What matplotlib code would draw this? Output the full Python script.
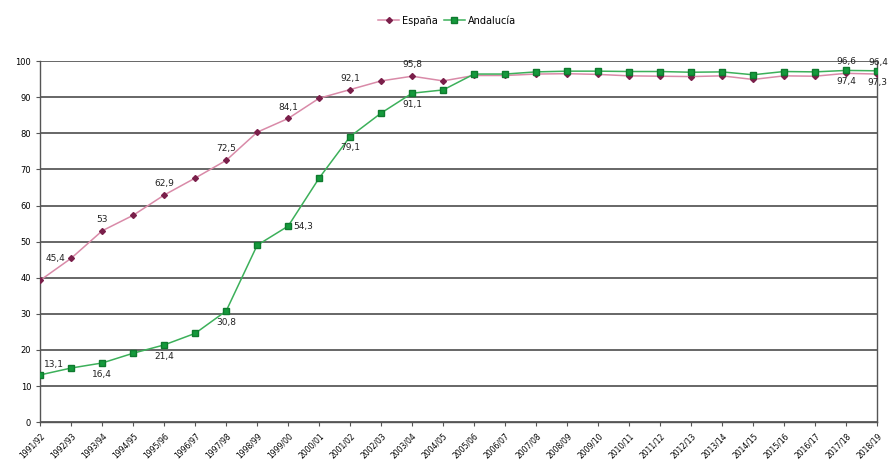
import matplotlib
matplotlib.use("Agg")
import matplotlib.pyplot as plt

cursos = ["1991/92", "1992/93", "1993/94", "1994/95", "1995/96", "1996/97", "1997/98",
          "1998/99", "1999/00", "2000/01", "2001/02", "2002/03", "2003/04", "2004/05",
          "2005/06", "2006/07", "2007/08", "2008/09", "2009/10", "2010/11", "2011/12",
          "2012/13", "2013/14", "2014/15", "2015/16", "2016/17", "2017/18", "2018/19"]

espana = [39.3, 45.4, 53.0, 57.3, 62.9, 67.6, 72.5, 80.3, 84.1, 89.7, 92.1, 94.5, 95.8, 94.5,
          96.0, 96.0, 96.4, 96.5, 96.3, 95.9, 95.8, 95.7, 95.9, 94.9, 95.9, 95.8, 96.6, 96.4]

andalucia = [13.1, 15.0, 16.4, 19.1, 21.4, 24.6, 30.8, 49.0, 54.3, 67.6, 79.1, 85.6, 91.1, 92.0,
             96.4, 96.4, 97.0, 97.2, 97.2, 97.1, 97.1, 96.9, 97.0, 96.2, 97.1, 97.0, 97.4, 97.3]

# (indice, posicion) de las etiquetas de datos que se ven en el original
etiq_esp = [(1, "left"), (2, "above"), (4, "above"), (6, "above"), (8, "above"),
            (10, "above"), (12, "above"), (26, "above"), (27, "aboveleft")]
etiq_and = [(0, "aboveright"), (2, "below"), (4, "below"), (6, "below"), (8, "right"),
            (10, "below"), (12, "below"), (26, "below"), (27, "below")]

col_esp_line = "#d98aa8"
col_esp_mk = "#7a1f4a"
col_and_line = "#3cb05a"
col_and_mk = "#159a3c"

fig = plt.figure(figsize=(8.94, 4.66), dpi=100)
ax = fig.add_axes([0.045, 0.094, 0.936, 0.775])

x = list(range(len(cursos)))
ax.plot(x, espana, color=col_esp_line, lw=1.1, marker="D", ms=3,
        mfc=col_esp_mk, mec=col_esp_mk, label="España", zorder=3)
ax.plot(x, andalucia, color=col_and_line, lw=1.1, marker="s", ms=5,
        mfc=col_and_mk, mec="#0f7a2e", label="Andalucía", zorder=4)

offs = {"above": (0, 5, "center", "bottom"), "below": (0, -5, "center", "top"),
        "left": (-4, 0, "right", "center"), "right": (4, 0, "left", "center"),
        "aboveright": (3, 4, "left", "bottom"), "aboveleft": (1, 5, "center", "bottom")}

def etiquetar(vals, lista):
    for i, pos in lista:
        dx, dy, ha, va = offs[pos]
        txt = f"{vals[i]:.1f}".replace(".", ",").replace(",0", "")
        ax.annotate(txt, (i, vals[i]), xytext=(dx, dy), textcoords="offset points",
                    ha=ha, va=va, fontsize=6.5, color="#222222", zorder=5)

etiquetar(espana, etiq_esp)
etiquetar(andalucia, etiq_and)

ax.set_xlim(0, len(cursos) - 1)
ax.set_ylim(0, 100)
ax.set_yticks(range(0, 101, 10))
ax.set_xticks(x)
ax.set_xticklabels(cursos, rotation=45, ha="right", rotation_mode="anchor", fontsize=5.5)
ax.tick_params(axis="y", labelsize=6, length=3, color="#555555")
ax.tick_params(axis="x", length=3, color="#555555")
ax.yaxis.grid(True, color="#5a5a5a", lw=1.3)
ax.set_axisbelow(True)
for s in ["left", "bottom", "right"]:
    ax.spines[s].set_color("#555555")
    ax.spines[s].set_linewidth(1.0)
ax.spines["top"].set_visible(False)

fig.legend(loc="upper center", bbox_to_anchor=(0.5, 0.985), ncol=2, frameon=False,
           fontsize=7, handlelength=2.2, columnspacing=0.6, handletextpad=0.3)

fig.savefig("out.png", dpi=100)
